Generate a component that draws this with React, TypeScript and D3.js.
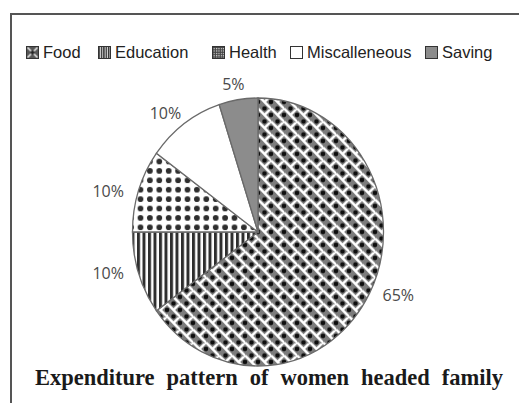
import React, { useLayoutEffect, useRef, useState } from "react";
import * as d3 from "d3";

const categories = ["Food", "Education", "Health", "Miscalleneous", "Saving"];
const values = [65, 10, 10, 10, 5];
const valueLabels = ["65%", "10%", "10%", "10%", "5%"];
const title = "Expenditure pattern of women headed family";

const W = 519;
const H = 403;
const cx = 258;
const cy = 232;
const rx = 125.5;
const ry = 134;
const legendX = [26, 98, 212, 290, 425];
const legendY = 46;
const titleX = 35;
const titleWidth = 468;

const sliceFills = ["url(#pFood)", "url(#pEdu)", "url(#pHealth)", "#ffffff", "#8c8c8c"];
const legendFills = ["url(#lFood)", "url(#lEdu)", "url(#lHealth)", "#ffffff", "#8c8c8c"];

export default function App() {
  const titleRef = useRef<SVGTextElement>(null);
  const [wordSpacing, setWordSpacing] = useState(0);

  useLayoutEffect(() => {
    const el = titleRef.current;
    if (!el) return;
    el.setAttribute("word-spacing", "0");
    const natural = el.getComputedTextLength();
    const spaces = title.split(" ").length - 1;
    setWordSpacing(Math.max(0, (titleWidth - natural) / spaces));
  }, []);

  const pie = d3.pie<number>().sort(null).value((d) => d).startAngle(0).endAngle(2 * Math.PI);
  const arcs = pie(values);
  const arc = d3.arc<d3.PieArcDatum<number>>().innerRadius(0).outerRadius(rx);
  const sy = ry / rx;
  const gapX = 16;
  const gapY = 16;
  const lw = 32;

  const T = 13;
  const h = T / 2;

  return (
    <svg
      width={W}
      height={H}
      style={{ position: "absolute", left: 0, top: 0, background: "#fff" }}
    >
      <defs>
        <pattern id="pFood" patternUnits="userSpaceOnUse" width={T} height={T} patternTransform={`scale(1, ${1 / sy})`}>
          <rect width={T} height={T} fill="#7c7c7c" />
          <path
            d={`M${-h},0 L0,${-h} M0,${T + h} L${T + h},0 M${h},${T + h} L${T + h},${h} M${-h},${h} L${h},${-h}
                M${-h},${h} L${h},${T + h} M${h},${-h} L${T + h},${T - h} M${-h},${T - h} L0,${T} M${T},0 L${T + h},${h}
                M0,${h} L${h},${T} M${h},0 L${T},${h} M0,${-h} L${T + h},${T}`}
            stroke="#fff"
            strokeWidth={2.4}
          />
          <circle cx={0} cy={0} r={2.3} fill="#0e0e0e" />
          <circle cx={T} cy={0} r={2.3} fill="#0e0e0e" />
          <circle cx={0} cy={T} r={2.3} fill="#0e0e0e" />
          <circle cx={T} cy={T} r={2.3} fill="#0e0e0e" />
          <circle cx={h} cy={h} r={2.3} fill="#0e0e0e" />
        </pattern>
        <pattern id="pEdu" patternUnits="userSpaceOnUse" width={5.5} height={10} patternTransform={`scale(1, ${1 / sy})`}>
          <rect width={5.5} height={10} fill="#fff" />
          <rect x={0} width={3} height={10} fill="#2e2e2e" />
        </pattern>
        <pattern id="pHealth" patternUnits="userSpaceOnUse" width={9.4} height={9.4} patternTransform={`scale(1, ${1 / sy})`}>
          <rect width={9.4} height={9.4} fill="#fff" />
          <circle cx={4.7} cy={4.7} r={2.9} fill="#2e2e2e" />
        </pattern>
        <pattern id="lFood" patternUnits="userSpaceOnUse" width={12} height={12} x={legendX[0] + 0.5} y={legendY + 0.5}>
          <rect width={12} height={12} fill="#555" />
          <path d="M1,1 L11,11 M11,1 L1,11" stroke="#fff" strokeWidth={1.4} />
          <circle cx={6} cy={6} r={2} fill="#222" />
        </pattern>
        <pattern id="lEdu" patternUnits="userSpaceOnUse" width={2.4} height={12}>
          <rect width={2.4} height={12} fill="#ddd" />
          <rect width={1.4} height={12} fill="#333" />
        </pattern>
        <pattern id="lHealth" patternUnits="userSpaceOnUse" width={2.4} height={2.4}>
          <rect width={2.4} height={2.4} fill="#444" />
          <rect width={1.2} height={1.2} fill="#ddd" />
        </pattern>
      </defs>

      {/* frame */}
      <line x1={10} y1={14} x2={W} y2={14} stroke="#555" strokeWidth={2} />
      <line x1={11} y1={13} x2={11} y2={H} stroke="#555" strokeWidth={2} />

      {/* legend */}
      {categories.map((c, i) => (
        <g key={c}>
          <rect
            x={legendX[i] + 0.5}
            y={legendY + 0.5}
            width={12}
            height={12}
            fill={legendFills[i]}
            stroke="#333"
            strokeWidth={1}
          />
          <text
            x={legendX[i] + 17}
            y={legendY + 12}
            fontFamily="'Liberation Sans', Arial, sans-serif"
            fontSize={16.5}
            fill="#222"
          >
            {c}
          </text>
        </g>
      ))}

      {/* pie */}
      <g transform={`translate(${cx},${cy}) scale(1,${sy})`}>
        {arcs.map((a, i) => (
          <path
            key={categories[i]}
            d={arc(a) || ""}
            fill={sliceFills[i]}
            stroke="#6a6a6a"
            strokeWidth={1.3}
            vectorEffect="non-scaling-stroke"
          />
        ))}
      </g>

      {/* value labels */}
      {arcs.map((a, i) => {
        const m = (a.startAngle + a.endAngle) / 2;
        const s = Math.sin(m);
        const c = -Math.cos(m);
        const x = cx + (rx + gapX) * s + (lw / 2) * s;
        const y = cy + (ry + gapY) * Math.sign(c) * Math.pow(Math.abs(c), 1.1);
        return (
          <text
            key={categories[i]}
            x={x}
            y={y}
            dy="0.36em"
            textAnchor="middle"
            fontFamily="'Open Sans', sans-serif"
            fontSize={16}
            fill="#4a4a4a"
          >
            {valueLabels[i]}
          </text>
        );
      })}

      {/* title */}
      <text
        ref={titleRef}
        x={titleX}
        y={385}
        wordSpacing={wordSpacing}
        fontFamily="'Liberation Serif', 'Times New Roman', serif"
        fontWeight="bold"
        fontSize={22.5}
        fill="#1a1a1a"
      >
        {title}
      </text>
    </svg>
  );
}
